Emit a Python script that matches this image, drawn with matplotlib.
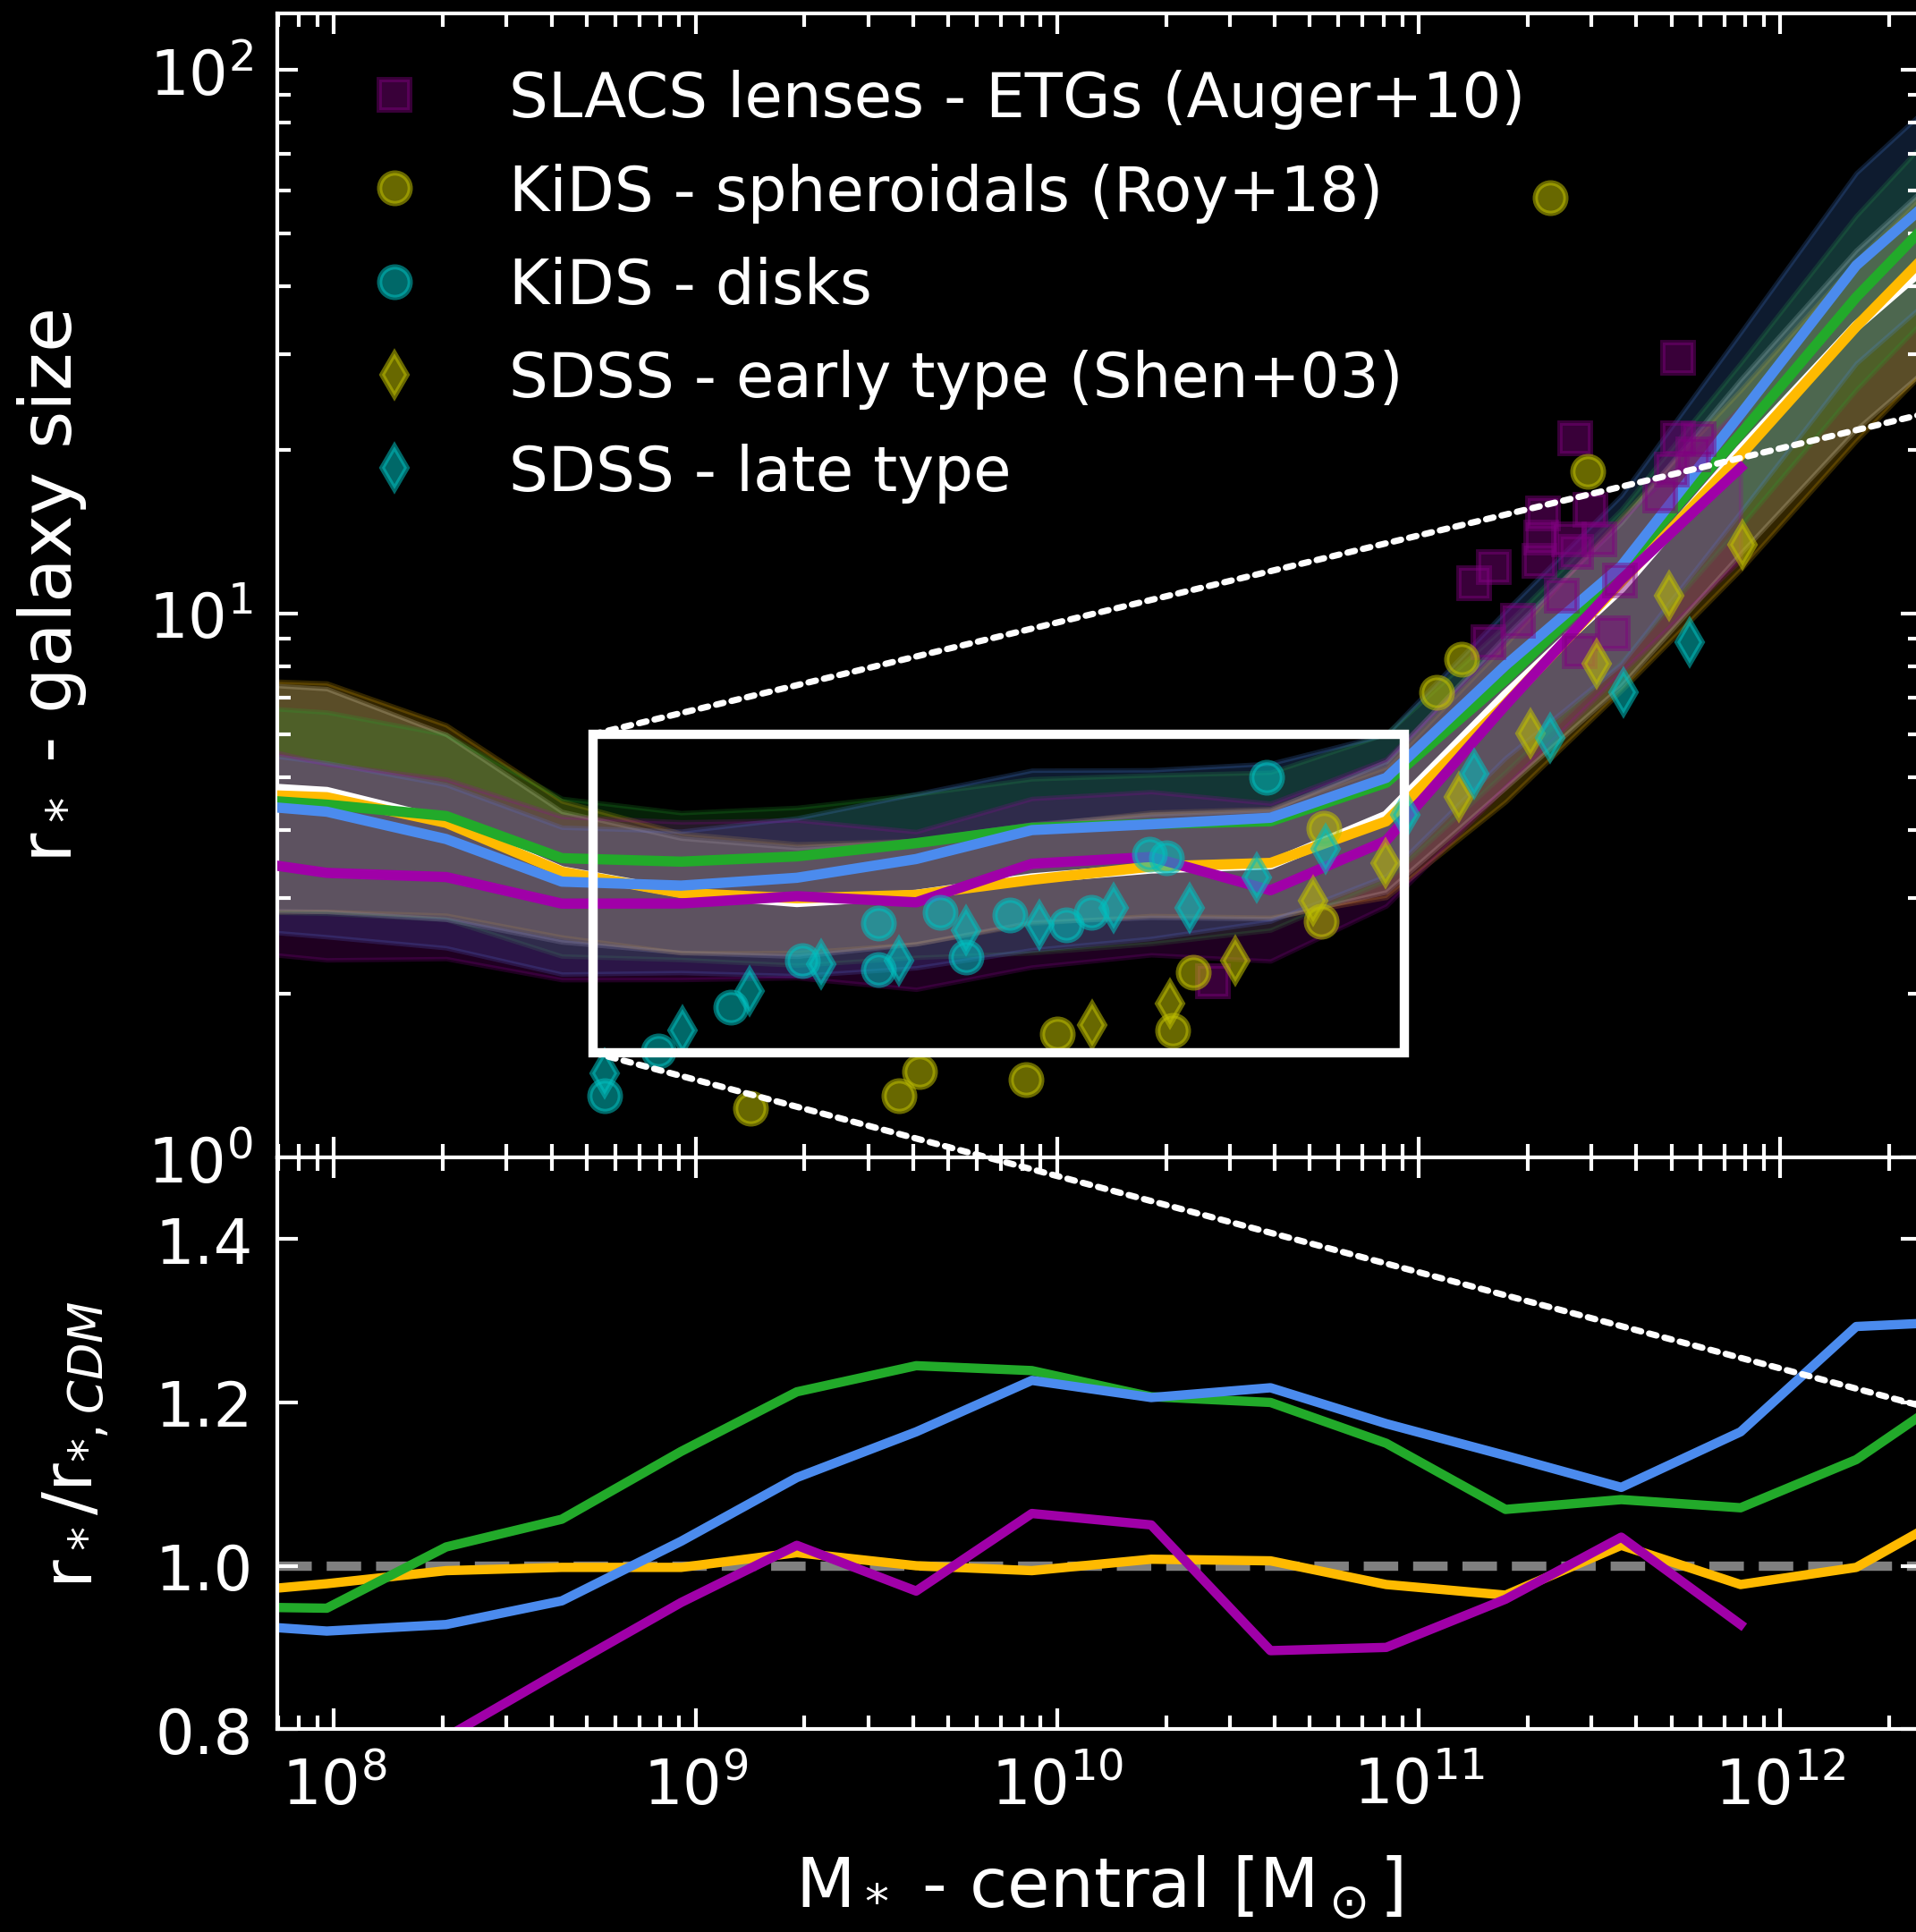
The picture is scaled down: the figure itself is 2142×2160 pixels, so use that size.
import numpy as np
import matplotlib.pyplot as plt
from matplotlib.patches import Rectangle, ConnectionPatch
from matplotlib.ticker import NullLocator

plt.style.use('dark_background')

# stellar mass bins, log10(M*/Msun)
logm = np.array([7.65, 7.98, 8.31, 8.63, 8.96, 9.28, 9.61, 9.93,
                 10.26, 10.59, 10.91, 11.24, 11.56, 11.89, 12.21, 12.54])

# CDM median size
r_cdm = np.array([4.85, 4.70, 4.15, 3.36, 3.07, 2.95, 3.04, 3.26,
                  3.40, 3.46, 4.25, 7.08, 11.16, 20.0, 33.8, 52.3])

# r*/r*,CDM for the other runs
ratio_orange = np.array([0.965, 0.978, 0.994, 0.998, 0.998, 1.016, 1.000, 0.994,
                         1.008, 1.006, 0.977, 0.964, 1.025, 0.977, 0.998, 1.080])
ratio_green = np.array([0.950, 0.948, 1.023, 1.057, 1.140, 1.213, 1.245, 1.239,
                        1.207, 1.200, 1.150, 1.069, 1.081, 1.071, 1.130, 1.230])
ratio_blue = np.array([0.930, 0.920, 0.928, 0.957, 1.030, 1.108, 1.164, 1.227,
                       1.206, 1.218, 1.174, 1.135, 1.096, 1.164, 1.293, 1.300])
ratio_magenta = np.array([0.740, 0.710, 0.790, 0.872, 0.955, 1.025, 0.969, 1.064,
                          1.050, 0.896, 0.900, 0.959, 1.035, 0.928, np.nan, np.nan])

# scatter of each run (dex above / below the median)
up_cdm = np.array([0.19, 0.19, 0.16, 0.11, 0.10, 0.10, 0.10, 0.10, 0.10, 0.10, 0.10, 0.11, 0.12, 0.13, 0.14, 0.15])
dn_cdm = np.array([0.23, 0.22, 0.18, 0.13, 0.11, 0.10, 0.09, 0.08, 0.09, 0.10, 0.14, 0.17, 0.18, 0.19, 0.19, 0.19])
up_orange = np.array([0.21, 0.21, 0.18, 0.13, 0.11, 0.10, 0.10, 0.10, 0.10, 0.10, 0.10, 0.11, 0.12, 0.12, 0.12, 0.12])
dn_orange = np.array([0.22, 0.21, 0.17, 0.12, 0.11, 0.10, 0.09, 0.08, 0.09, 0.10, 0.14, 0.18, 0.20, 0.21, 0.21, 0.21])
up_green = np.array([0.17, 0.17, 0.15, 0.11, 0.09, 0.09, 0.09, 0.09, 0.09, 0.09, 0.09, 0.10, 0.11, 0.13, 0.15, 0.16])
dn_green = np.array([0.21, 0.20, 0.19, 0.18, 0.18, 0.20, 0.21, 0.23, 0.22, 0.20, 0.18, 0.17, 0.17, 0.17, 0.17, 0.17])
up_blue = np.array([0.10, 0.09, 0.10, 0.10, 0.10, 0.11, 0.12, 0.11, 0.10, 0.10, 0.08, 0.10, 0.13, 0.15, 0.17, 0.18])
dn_blue = np.array([0.23, 0.23, 0.20, 0.17, 0.16, 0.18, 0.20, 0.22, 0.21, 0.19, 0.18, 0.17, 0.18, 0.18, 0.18, 0.18])
up_magenta = np.array([0.22, 0.20, 0.18, 0.16, 0.15, 0.14, 0.13, 0.12, 0.12, 0.16, 0.15, 0.12, 0.11, 0.11, np.nan, np.nan])
dn_magenta = np.array([0.17, 0.16, 0.15, 0.14, 0.14, 0.15, 0.16, 0.19, 0.18, 0.13, 0.12, 0.15, 0.17, 0.17, np.nan, np.nan])

# observations
slacs_m = [2.69e10, 1.42e11, 1.61e11, 2.16e11, 2.18e11, 2.21e11, 2.71e11, 2.99e11, 5.21e11, 5.21e11,
           5.96e11, 1.56e11, 1.88e11, 2.48e11, 2.78e11, 3.44e11, 3.60e11, 2.72e11, 5.0e11, 5.73e11,
           4.66e11, 3.16e11, 2.60e11]
slacs_r = [2.11, 11.4, 12.2, 12.5, 13.8, 15.3, 21.0, 15.5, 29.5, 21.0,
           20.9, 8.87, 9.69, 10.8, 8.52, 9.21, 11.5, 13.0, 18.4, 19.6,
           16.5, 13.7, 13.7]
kids_sph_m = [1.42e9, 3.65e9, 4.16e9, 8.18e9, 1.0e10, 2.09e10, 2.38e10, 5.38e10, 5.45e10,
              1.12e11, 1.31e11, 2.93e11, 2.31e11]
kids_sph_r = [1.23, 1.30, 1.44, 1.39, 1.69, 1.71, 2.19, 2.72, 4.03,
              7.16, 8.25, 18.3, 58.1]
kids_disk_m = [5.62e8, 7.89e8, 1.25e9, 1.97e9, 3.21e9, 3.21e9, 4.74e9, 5.6e9, 7.38e9,
               1.06e10, 1.24e10, 1.80e10, 2.0e10, 3.80e10]
kids_disk_r = [1.30, 1.57, 1.89, 2.30, 2.70, 2.22, 2.82, 2.34, 2.79,
               2.68, 2.82, 3.61, 3.56, 5.01]
sdss_early_m = [1.25e10, 2.05e10, 3.11e10, 5.1e10, 8.09e10, 1.29e11, 2.04e11, 3.10e11, 4.93e11, 7.87e11]
sdss_early_r = [1.75, 1.92, 2.30, 2.97, 3.48, 4.61, 6.03, 8.10, 10.8, 13.4]
sdss_late_m = [5.62e8, 9.2e8, 1.41e9, 2.23e9, 3.65e9, 5.6e9, 8.93e9, 1.43e10, 2.33e10, 3.56e10,
               5.52e10, 9.19e10, 1.42e11, 2.31e11, 3.68e11, 5.61e11]
sdss_late_r = [1.43, 1.71, 2.02, 2.27, 2.30, 2.62, 2.68, 2.88, 2.88, 3.27,
               3.69, 4.26, 5.07, 5.91, 7.16, 8.87]

c_orange = '#FFBA00'
c_green = '#22AA2A'
c_blue = '#4B8BEE'
c_magenta = '#A000A8'

mass = 10 ** logm
runs = [
    ('white', r_cdm, up_cdm, dn_cdm),
    (c_orange, r_cdm * ratio_orange, up_orange, dn_orange),
    (c_green, r_cdm * ratio_green, up_green, dn_green),
    (c_blue, r_cdm * ratio_blue, up_blue, dn_blue),
    (c_magenta, r_cdm * ratio_magenta, up_magenta, dn_magenta),
]

fig = plt.figure(figsize=(7.14, 7.2033), dpi=300)
fig.patch.set_facecolor('black')
ax1 = fig.add_axes([0.1447, 0.4007, 0.8581, 0.5919])
ax2 = fig.add_axes([0.1447, 0.105, 0.8581, 0.2957], sharex=ax1)

# bands + medians
for col, med, up, dn in runs:
    ax1.fill_between(mass, med * 10 ** up, med / 10 ** dn, color=col, alpha=0.2, lw=1.2)
for col, med, up, dn in runs:
    ax1.plot(mass, med, color=col, lw=2.75, zorder=3)

mk = dict(ls='none', ms=8.2, mew=1.4, zorder=4)
ax1.plot(slacs_m, slacs_r, 's', color='purple', alpha=0.45, label='SLACS lenses - ETGs (Auger+10)', **mk)
ax1.plot(kids_sph_m, kids_sph_r, 'o', color='y', alpha=0.55, label='KiDS - spheroidals (Roy+18)', **mk)
ax1.plot(kids_disk_m, kids_disk_r, 'o', color='c', alpha=0.55, label='KiDS - disks', **mk)
ax1.plot(sdss_early_m, sdss_early_r, 'd', color='y', alpha=0.55, label='SDSS - early type (Shen+03)', **mk)
ax1.plot(sdss_late_m, sdss_late_r, 'd', color='c', alpha=0.55, label='SDSS - late type', **mk)

ax1.add_patch(Rectangle((5.2e8, 1.56), 9.1e10 - 5.2e8, 6.0 - 1.56, fill=False,
                        ec='white', lw=2.5, zorder=6))
for xyA, xyB in [((5.2e8, 6.0), (1.05, 0.7964)), ((5.2e8, 1.56), (1.05, 0.2597))]:
    con = ConnectionPatch(xyA=xyA, coordsA=ax1.transData, xyB=xyB, coordsB=fig.transFigure,
                          color='white', lw=1.7, ls=(0, (1.2, 1.3)), zorder=10)
    fig.add_artist(con)

ax1.set_xscale('log')
ax1.set_yscale('log')
ax1.set_xlim(10 ** 7.843, 10 ** 12.39)
ax1.set_ylim(1.0, 127)
ax1.set_ylabel(r'r$_*$ - galaxy size', fontsize=19.5)
ax1.legend(loc='upper left', frameon=False, fontsize=16.6, labelspacing=0.54, handletextpad=0.85)

# ratio panel
ax2.axhline(1.0, color='grey', ls='--', lw=2.5, zorder=1)
ax2.plot(mass, ratio_orange, color=c_orange, lw=2.5)
ax2.plot(mass, ratio_green, color=c_green, lw=2.5)
ax2.plot(mass, ratio_blue, color=c_blue, lw=2.5)
ax2.plot(mass, ratio_magenta, color=c_magenta, lw=2.5)
ax2.set_ylim(0.8, 1.5)
ax2.set_yticks([0.8, 1.0, 1.2, 1.4])
ax2.yaxis.set_minor_locator(NullLocator())
ax2.set_ylabel(r'r$_*$/r$_{*,CDM}$', fontsize=18.5)
ax2.set_xlabel(r'M$_*$ - central [M$_\odot$]', fontsize=18.5, labelpad=10)

for ax in (ax1, ax2):
    ax.set_facecolor('black')
    for s in ax.spines.values():
        s.set_color('white')
        s.set_linewidth(1.0)
    ax.tick_params(which='both', direction='in', top=True, right=True, width=1.0,
                   colors='white', labelsize=16.5)
    ax.tick_params(which='major', length=5.5)
    ax.tick_params(which='minor', length=3.5)
    ax.tick_params(axis='y', pad=6.5)
ax1.tick_params(labelbottom=False)
ax2.tick_params(axis='x', pad=7)
ax1.yaxis.set_label_coords(-0.115, 0.5)
ax2.yaxis.set_label_coords(-0.101, 0.5)

fig.savefig('out.png', dpi=300, facecolor='black')
